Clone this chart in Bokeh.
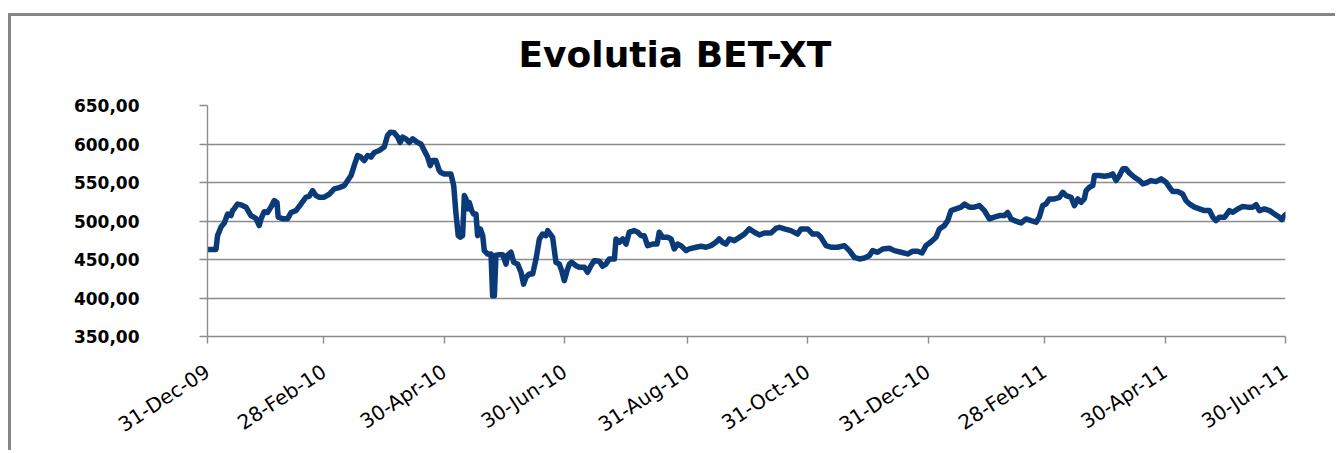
import pandas as pd
from bokeh.plotting import figure
from bokeh.models import Range1d, FixedTicker, DatetimeTickFormatter
from bokeh.embed import file_html
from bokeh.resources import INLINE

# ---------------- data ----------------
start_date = "2009-12-31"
# day offsets from 31-Dec-09
days = [
    0, 4.3, 5.1, 6.8, 8.5, 10.2, 11.9, 12.7, 13.5, 15.2, 16.9, 19.5, 22.0, 24.5, 26.2, 27.1,
    28.7, 30.4, 32.1, 33.8, 35.2, 35.8, 38.0, 40.6, 42.3, 44.8, 47.3, 49.9, 51.5, 53.2, 54.9,
    56.6, 59.1, 61.7, 64.2, 66.7, 69.3, 71.0, 72.7, 74.3, 76.0, 77.7, 79.4, 81.1, 82.8, 84.5,
    87.0, 89.5, 91.2, 92.6, 94.6, 96.3, 97.6, 98.8, 100.5, 102.2, 103.9, 106.4, 108.1, 109.8,
    111.5, 112.8, 114.0, 115.7, 117.4,
    118.2, 119.9, 123.3, 124.7, 125.8, 127.0, 128.0, 129.2, 130.1, 130.9, 131.8, 132.6, 133.8,
    134.8, 136.0, 136.8, 138.2, 139.4, 140.2, 141.9, 143.6, 144.4, 145.3, 146.1, 147.8, 149.5,
    151.2, 152.0, 153.7, 155.1, 157.1, 158.8, 160.1, 161.3, 163.0, 164.7, 166.4, 168.1, 169.7,
    171.4, 172.3, 173.6, 174.8, 176.5, 178.2, 179.4, 180.7, 182.1, 183.3, 184.4, 186.6, 188.3,
    190.9, 192.5, 194.2, 195.9, 198.5, 200.1, 201.8, 203.5, 206.1, 206.9, 208.6, 210.3, 212.0,
    213.6, 216.2, 217.9, 219.6, 221.2, 222.9, 225.5, 227.7, 228.8, 230.5, 233.1, 234.8, 236.4,
    238.1, 239.8, 242.4, 244.0,
    247.4, 250.0, 252.5, 255.0, 257.5, 259.2, 260.9, 262.6, 264.3, 266.8, 269.4, 271.9, 274.4,
    277.0, 279.5, 282.0, 285.4, 288.0, 289.6, 292.2, 295.5, 298.9, 300.6, 304.0, 306.5, 309.0,
    310.7, 313.3, 315.8, 319.2, 322.6, 325.1, 327.6, 330.2, 332.7, 335.2, 336.9, 339.4, 342.0,
    345.4, 347.9, 351.3, 354.6, 357.2, 359.7, 361.9, 363.9,
    366.5, 369.0, 370.7, 373.2, 374.9, 376.6, 379.1, 381.7, 383.4, 385.9, 388.4, 391.0, 393.5,
    396.0, 398.5, 401.1, 403.6, 405.3, 407.0, 409.5, 412.1, 414.6, 417.1, 419.7, 421.3, 423.0,
    424.7, 426.4, 429.0, 431.5, 433.2, 434.9, 437.4, 439.1, 440.8, 442.5, 444.1, 445.0, 446.7,
    448.4, 449.2, 451.7, 454.3, 456.8, 458.5, 460.2, 461.9, 463.6, 465.2, 466.9, 469.5, 472.0,
    473.7, 475.4, 477.9,
    480.4, 483.0, 485.5, 487.2, 488.9, 491.4, 493.9, 495.6, 497.3, 499.9, 502.4, 504.9, 507.5,
    509.2, 510.8, 512.5, 515.1, 517.6, 519.3, 521.8, 524.3, 526.9, 529.4, 531.1, 532.8, 535.3,
    537.9, 540.4, 542.9, 544.1, 545.5, 546.0,
]
bet_xt = [
    463, 463, 481, 492, 497.5, 509, 507, 513.5, 515.7, 522, 521, 518, 507, 503.5, 494, 502.7,
    512, 511, 518, 526.5, 524, 505, 503, 503, 511, 513.5, 522, 531, 532, 539.5, 533,
    531, 531, 535, 541.7, 543.4, 546, 552.5, 559, 572, 585, 583, 578.5, 585, 583, 589,
    591.5, 596, 611, 615.3, 614.5, 609, 602, 609, 606.7, 602, 606.7, 602, 600, 591.5,
    583, 572, 578.5, 578.5, 565.5,
    563, 561, 561, 546, 511, 481, 479, 481, 533, 528.7, 515.7, 524, 513.5,
    509, 509, 481, 489.7, 481, 461.5, 457, 457, 403, 403, 455.6, 456.3, 456.3,
    444, 455.6, 459.4, 446.4, 444, 433.4, 418, 426.9, 431.2, 431.2, 450.7, 476.7, 483,
    481, 487.5, 483, 478.8, 446.4, 444, 435.5, 422.5, 435.5, 444, 446.4, 442, 439.9,
    439.9, 433.4, 442, 448.5, 447.6, 441.2, 444, 450.7, 450.7, 476.7, 472.4, 476.7, 470,
    485.4, 487.5, 485.4, 481, 481, 468, 470, 470, 485.4, 478.8, 478.8, 476.7, 463.7,
    470, 468, 461.5, 463.7,
    465.9, 467.2, 465.9, 468, 472.4, 476.7, 472.4, 470, 476.7, 474.5, 478.8, 483, 489.7,
    485.4, 481.9, 484.5, 484.5, 490.5, 491.9, 489.7, 487.5, 483, 489.7, 489.7, 483, 483,
    478.8, 468, 465.9, 465.9, 468, 461.5, 452.9, 450.7, 452, 455, 461.5, 459.4, 463.7,
    464.6, 461.5, 459.4, 457.2, 460.7, 460.7, 458.5, 468,
    473, 478.8, 489.7, 494, 500.5, 513.5, 515.7, 518, 522, 518, 518, 520, 513.5,
    502.7, 505, 507, 507, 511, 502.7, 499.7, 497.5, 502.7, 500.5, 498.4, 505, 520,
    522, 528.7, 528.7, 530.8, 537.3, 533, 530.8, 520, 528.7, 524.4, 528.7, 539.5, 543.8,
    546, 559, 559, 558, 559, 561.2, 552.5, 559, 567.7, 567.7, 562.5, 556.8, 552.5,
    548.2, 549.5, 552.5,
    551.2, 554.7, 550.3, 543.8, 538.2, 538.2, 535.2, 526.5, 522.2, 518, 515.7, 513.5, 513.5,
    504.8, 500.5, 504.8, 504.8, 513.5, 511.3, 515.7, 518.7, 518, 518, 521.3, 513.5, 515.7,
    513.5, 509.2, 504.8, 501.8, 507, 508.3,
]
x_tick_dates = ["2009-12-31", "2010-02-28", "2010-04-30", "2010-06-30", "2010-08-31",
                "2010-10-31", "2010-12-31", "2011-02-28", "2011-04-30", "2011-06-30"]
x_tick_labels = ["31-Dec-09", "28-Feb-10", "30-Apr-10", "30-Jun-10", "31-Aug-10",
                 "31-Oct-10", "31-Dec-10", "28-Feb-11", "30-Apr-11", "30-Jun-11"]
y_ticks = [350, 400, 450, 500, 550, 600, 650]
y_tick_labels = ["350,00", "400,00", "450,00", "500,00", "550,00", "600,00", "650,00"]
title_text = "Evolutia BET-XT"

# ---------------- build ----------------
base = pd.Timestamp(start_date)
dates = [base + pd.to_timedelta(d, unit="D") for d in days]

def to_ms(ts):
    return float(pd.Timestamp(ts).value // 10**6)

x_ticks_ms = [to_ms(d) for d in x_tick_dates]

p = figure(
    width=1327, height=437,
    x_axis_type="datetime",
    x_range=Range1d(to_ms(x_tick_dates[0]), to_ms(x_tick_dates[-1])),
    y_range=Range1d(y_ticks[0], y_ticks[-1]),
    output_backend="svg", toolbar_location=None,
    min_border_left=196, min_border_right=53, min_border_top=89, min_border_bottom=117,
    title=title_text,
)
p.styles = {"border-left": "3px solid #868686", "border-top": "3px solid #868686",
            "margin-top": "13px", "margin-left": "8px"}

p.title.text_font = "DejaVu Sans"
p.title.text_font_style = "bold"
p.title.text_font_size = "36px"
p.title.text_color = "#000000"
p.title.align = "left"
p.title.offset = 311
p.title.vertical_align = "bottom"
p.title.standoff = 0
p.title.padding = dict(left=0, right=0, top=0, bottom=31)

p.outline_line_color = None
p.background_fill_color = "white"
p.border_fill_color = "white"

# grid
p.xgrid.grid_line_color = None
p.ygrid.grid_line_color = "#8c8c8c"
p.ygrid.grid_line_width = 1.4

# y axis
p.yaxis.ticker = FixedTicker(ticks=y_ticks)
p.yaxis.major_label_overrides = {t: l for t, l in zip(y_ticks, y_tick_labels)}
p.yaxis.major_label_text_font = "DejaVu Sans"
p.yaxis.major_label_text_font_style = "bold"
p.yaxis.major_label_text_font_size = "17px"
p.yaxis.major_label_text_color = "#000000"
p.yaxis.major_tick_out = 8
p.yaxis.major_tick_in = 0
p.yaxis.minor_tick_line_color = None
p.yaxis.major_label_standoff = 60
p.yaxis.axis_line_color = "#8c8c8c"
p.yaxis.axis_line_width = 1.4
p.yaxis.major_tick_line_color = "#8c8c8c"
p.yaxis.major_tick_line_width = 1.4

# x axis
p.xaxis.ticker = FixedTicker(ticks=x_ticks_ms)
fmt = "%d-%b-%y"
p.xaxis.formatter = DatetimeTickFormatter(
    milliseconds=fmt, seconds=fmt, minsec=fmt, minutes=fmt, hourmin=fmt,
    hours=fmt, days=fmt, months=fmt, years=fmt)
p.xaxis.major_label_overrides = {t: l for t, l in zip(x_ticks_ms, x_tick_labels)}
p.xaxis.major_label_orientation = 0.58
p.xaxis.major_label_text_font = "DejaVu Sans"
p.xaxis.major_label_text_font_size = "20px"
p.xaxis.major_label_text_color = "#000000"
p.xaxis.major_tick_out = 7
p.xaxis.major_tick_in = 0
p.xaxis.minor_tick_line_color = None
p.xaxis.major_label_standoff = 26
p.xaxis.axis_line_color = "#8c8c8c"
p.xaxis.axis_line_width = 1.4
p.xaxis.major_tick_line_color = "#8c8c8c"
p.xaxis.major_tick_line_width = 1.4

p.line(dates, bet_xt, line_color="#0b3a78", line_width=5.5, line_join="round", line_cap="round")

open("out.html", "w").write(file_html(p, INLINE))
